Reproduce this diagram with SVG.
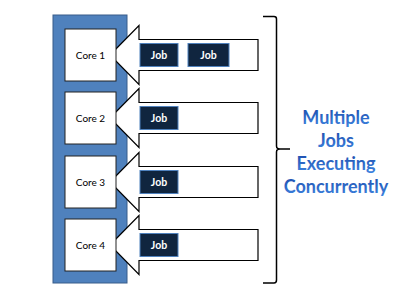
<svg xmlns="http://www.w3.org/2000/svg" width="400" height="300" viewBox="0 0 400 300">
<defs>
<linearGradient id="tg" x1="0" y1="0" x2="0" y2="1">
<stop offset="0" stop-color="#1a48a8"/>
<stop offset="1" stop-color="#3f86e2"/>
</linearGradient>
<style>
.core{fill:#fff;stroke:#222;stroke-width:1}
.arrow{fill:#fff;stroke:#000;stroke-width:1.2;stroke-linejoin:miter}
.job{fill:#10253f;stroke:#4f81bd;stroke-width:1}
.ct{font-family:Lato,"Liberation Sans",sans-serif;font-size:10px;fill:#000;text-anchor:middle}
.jt{font-family:Lato,"Liberation Sans",sans-serif;font-size:10.5px;font-weight:bold;fill:#fff;text-anchor:middle}
.bt{font-family:Lato,"Liberation Sans",sans-serif;font-size:18px;font-weight:bold;fill:url(#tg);text-anchor:middle}
</style>
</defs>
<rect id="cpu" x="53" y="15" width="74" height="268" fill="#4f81bd" stroke="#385d8a" stroke-width="1"/>
<g id="connectors">
<polygon class="arrow" points="110,55 139,25.5 139,39.5 258,39.5 258,70.5 139,70.5 139,84.5"/>
<polygon class="arrow" points="110,118 139,88.5 139,102.5 258,102.5 258,133.5 139,133.5 139,147.5"/>
<polygon class="arrow" points="110,182 139,152.5 139,166.5 258,166.5 258,197.5 139,197.5 139,211.5"/>
<polygon class="arrow" points="110,245 139,215.5 139,229.5 258,229.5 258,260.5 139,260.5 139,274.5"/>
</g>
<g id="core1"><rect class="core" x="65" y="29" width="51" height="52"/><text class="ct" x="90.5" y="58.5">Core 1</text></g>
<g id="core2"><rect class="core" x="65" y="92" width="51" height="52"/><text class="ct" x="90.5" y="121.5">Core 2</text></g>
<g id="core3"><rect class="core" x="65" y="156" width="51" height="52"/><text class="ct" x="90.5" y="185.5">Core 3</text></g>
<g id="core4"><rect class="core" x="65" y="219" width="51" height="52"/><text class="ct" x="90.5" y="248.5">Core 4</text></g>
<g id="job1a"><rect class="job" x="140" y="43.5" width="38" height="23"/><text class="jt" x="159" y="58.8">Job</text></g>
<g id="job1b"><rect class="job" x="188" y="43.5" width="41" height="23"/><text class="jt" x="208.5" y="58.8">Job</text></g>
<g id="job2"><rect class="job" x="140" y="106.5" width="38" height="23"/><text class="jt" x="159" y="121.8">Job</text></g>
<g id="job3"><rect class="job" x="140" y="170.5" width="38" height="23"/><text class="jt" x="159" y="185.8">Job</text></g>
<g id="job4"><rect class="job" x="140" y="233.5" width="38" height="23"/><text class="jt" x="159" y="248.8">Job</text></g>
<g id="brace">
<path d="M263,16.5 L274,16.5 Q276.5,16.5 276.5,19 L276.5,146 Q276.5,149 280,149 L290,149 M280,149 Q276.5,149 276.5,152 L276.5,280 Q276.5,283 274,283 L263,283" fill="none" stroke="#000" stroke-width="1.5"/>
</g>
<g id="label">
<text class="bt" x="336" y="124">Multiple</text>
<text class="bt" x="336" y="147">Jobs</text>
<text class="bt" x="336" y="170">Executing</text>
<text class="bt" x="336" y="193">Concurrently</text>
</g>
</svg>
